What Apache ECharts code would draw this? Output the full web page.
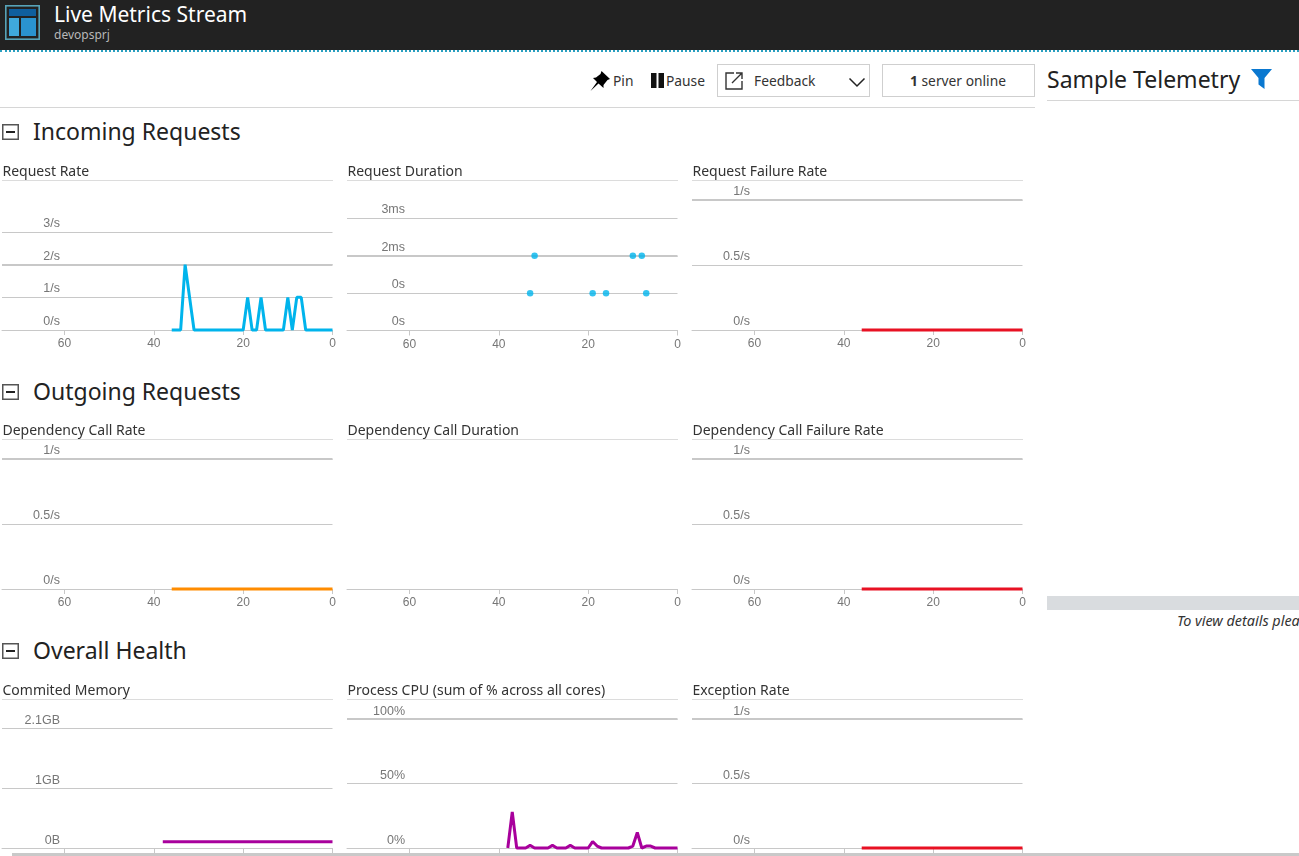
<!DOCTYPE html>
<html>
<head>
<meta charset="utf-8">
<script src="https://cdn.jsdelivr.net/npm/echarts@6/dist/echarts.min.js"></script>
<style>
html,body{margin:0;padding:0;width:1299px;height:856px;overflow:hidden;background:#fff;font-family:"Noto Sans",sans-serif;color:#222}
.a{position:absolute;white-space:nowrap}
#chart{position:absolute;left:0;top:0;width:1299px;height:856px;z-index:2}
.box{position:absolute;box-sizing:border-box;border:1px solid #cfcfcf;height:33px;top:64px}
.rule{position:absolute;height:1px;background:#d6d6d6}
.h{font-size:23px;line-height:30px;color:#222}
.tb{font-size:13.8px;line-height:18px;color:#333}
</style>
</head>
<body>
<div class="a" style="left:0;top:0;width:1299px;height:50px;background:#222"></div>
<div class="a" style="left:0;top:50px;width:1299px;height:0;border-top:2px dotted #2aa0c0"></div>
<svg class="a" style="left:5px;top:5px" width="35" height="36" viewBox="0 0 35 36">
<rect x="0.8" y="0.8" width="33.4" height="33.4" fill="#222" stroke="#57a3b8" stroke-width="1.6"/>
<rect x="4" y="4" width="27" height="7" fill="#0f5f9e"/>
<rect x="4" y="13" width="10" height="18" fill="#3fa9dc"/>
<rect x="16" y="13" width="15" height="18" fill="#2a93cf"/>
</svg>
<div class="a" style="left:54px;top:-1px;font-size:21px;line-height:30px;color:#fff">Live Metrics Stream</div>
<div class="a" style="left:54px;top:27px;font-size:12px;line-height:16px;color:#b8b8b8">devopsprj</div>

<svg class="a" style="left:589px;top:70px" width="22" height="22" viewBox="0 0 22 22">
<path d="M12.5 1 L21 9 L18.5 10 L14.5 15 L14.5 18 L9.5 13.5 L1.5 21 L8 12 L4 8 L7 7.5 L11.5 4 Z" fill="#000"/>
</svg>
<div class="a tb" style="left:613px;top:72px">Pin</div>
<svg class="a" style="left:651px;top:73px" width="14" height="15"><rect x="0" y="0" width="5.5" height="15" fill="#111"/><rect x="7.5" y="0" width="5.5" height="15" fill="#111"/></svg>
<div class="a tb" style="left:666px;top:72px">Pause</div>
<div class="box" style="left:717px;width:153px"></div>
<svg class="a" style="left:724px;top:71px" width="20" height="20" viewBox="0 0 20 20" fill="none" stroke="#333" stroke-width="1.4">
<path d="M10 2 H2 V18 H18 V10"/><path d="M8 12 L18 2 M12 2 H18 V8"/>
</svg>
<div class="a tb" style="left:754px;top:72px">Feedback</div>
<svg class="a" style="left:848px;top:76px" width="18" height="12" fill="none" stroke="#222" stroke-width="1.5"><path d="M1.5 2.5 L9 10 L16.5 2.5"/></svg>
<div class="box" style="left:882px;width:153px"></div>
<div class="a tb" style="left:910px;top:72px"><b>1</b> server online</div>
<div class="rule" style="left:0;top:107px;width:1035px"></div>

<div class="a h" style="left:1047px;top:64px">Sample Telemetry</div>
<svg class="a" style="left:1251px;top:69px" width="22" height="20"><path d="M0 0 H21 L13.5 9 V20 L7.5 15.5 V9 Z" fill="#0a78d0"/></svg>
<div class="rule" style="left:1047px;top:100px;width:252px"></div>
<div class="a" style="left:1047px;top:596px;width:252px;height:14px;background:#d9dcdf"></div>
<div class="a" style="left:1177px;top:612px;font-size:14.4px;line-height:18px;font-style:italic;color:#333">To view details please select a sample</div>

<div class="a h" style="left:33px;top:116px">Incoming Requests</div>
<div class="a h" style="left:33px;top:376px">Outgoing Requests</div>
<div class="a h" style="left:33px;top:635px">Overall Health</div>
<svg class="a" style="left:2px;top:124px" width="17" height="16"><rect x=".75" y=".75" width="15.5" height="14.5" fill="none" stroke="#555" stroke-width="1.5"/><rect x="4" y="7" width="9" height="2" fill="#222"/></svg>
<svg class="a" style="left:2px;top:384px" width="17" height="16"><rect x=".75" y=".75" width="15.5" height="14.5" fill="none" stroke="#555" stroke-width="1.5"/><rect x="4" y="7" width="9" height="2" fill="#222"/></svg>
<svg class="a" style="left:2px;top:643px" width="17" height="16"><rect x=".75" y=".75" width="15.5" height="14.5" fill="none" stroke="#555" stroke-width="1.5"/><rect x="4" y="7" width="9" height="2" fill="#222"/></svg>

<div id="chart"></div>
<div class="a" style="left:12px;top:853px;width:1287px;height:3px;background:#c9c9c9;z-index:3"></div>

<script>
// x-axis: seconds ago
var xTicks = [0, 20, 40, 60];

// tick labels, bottom to top
var rateLabels = ['0/s', '1/s', '2/s', '3/s'];
var durationLabels = ['0s', '0s', '2ms', '3ms'];
var unitRateLabels = ['0/s', '0.5/s', '1/s'];
var memoryLabels = ['0B', '1GB', '2.1GB'];
var cpuLabels = ['0%', '50%', '100%'];

// Request Rate
var requestRateAges = [36, 34, 33, 31, 20, 19, 18, 17, 16, 15, 11, 10, 9, 8, 7, 6, 0];
var requestRateValues = [0, 0, 2, 0, 0, 1, 0, 0, 1, 0, 0, 1, 0, 1, 1, 0, 0];

// Request Duration (ms)
var durationAges = [33, 32, 19, 16, 10, 8, 7];
var durationValues = [1, 2, 1, 1, 2, 2, 1];

// Flat series
var flatAges = [36, 0];
var requestFailureValues = [0, 0];
var dependencyRateValues = [0, 0];
var dependencyFailureValues = [0, 0];
var exceptionValues = [0, 0];

// Committed memory (GB)
var memoryAges = [38, 0];
var memoryValues = [0.11, 0.11];

// Process CPU (%)
var cpuAges = [38, 37, 36, 34, 33, 32, 29, 28, 27, 25, 24, 23, 20, 19, 18, 17, 11, 10, 9, 8, 7, 6, 5, 0];
var cpuValues = [0, 28, 0, 0, 2, 0, 0, 2, 0, 0, 2, 0, 0, 5, 1.5, 0, 0, 1.5, 12, 0, 1.5, 1.5, 0, 0];

var RED = '#e81123', BLUE = '#00b4ec', ORANGE = '#ff8c00', PURPLE = '#a8009c';

var panels = [
 {t:'Request Rate',c:0,r:0,top:232,y0:330,max:3,iv:1,labels:rateLabels,heavy:2,x:requestRateAges,y:requestRateValues,color:BLUE},
 {t:'Request Duration',c:1,r:0,top:218.5,y0:330.5,max:3,iv:1,labels:durationLabels,heavy:2,x:durationAges,y:durationValues,color:BLUE,scatter:true},
 {t:'Request Failure Rate',c:2,r:0,top:200,y0:330,max:1,iv:.5,labels:unitRateLabels,heavy:1,x:flatAges,y:requestFailureValues,color:RED},
 {t:'Dependency Call Rate',c:0,r:1,top:459,y0:589,max:1,iv:.5,labels:unitRateLabels,heavy:1,x:flatAges,y:dependencyRateValues,color:ORANGE},
 {t:'Dependency Call Duration',c:1,r:1,top:459,y0:589,max:1,iv:.5,labels:null,heavy:null,x:[],y:[],color:BLUE},
 {t:'Dependency Call Failure Rate',c:2,r:1,top:459,y0:589,max:1,iv:.5,labels:unitRateLabels,heavy:1,x:flatAges,y:dependencyFailureValues,color:RED},
 {t:'Commited Memory',c:0,r:2,top:728,y0:848,max:2.1,iv:1.05,labels:memoryLabels,heavy:null,x:memoryAges,y:memoryValues,color:PURPLE},
 {t:'Process CPU (sum of % across all cores)',c:1,r:2,top:719,y0:848,max:100,iv:50,labels:cpuLabels,heavy:100,x:cpuAges,y:cpuValues,color:PURPLE},
 {t:'Exception Rate',c:2,r:2,top:719,y0:848,max:1,iv:.5,labels:unitRateLabels,heavy:1,x:flatAges,y:exceptionValues,color:RED}
];

var titleY = [164, 423, 683], ruleY = [180, 439, 699], labelPad = [2, 2, 1];
var option = {animation:false,title:[],grid:[],xAxis:[],yAxis:[],series:[],graphic:[]};
var AX = '#c8c8c8', TXT = '#767676', SANS = '"Liberation Sans",Arial,sans-serif';

panels.forEach(function(p,i){
  var left = 2 + 345*p.c;
  option.title.push({text:p.t,left:left+0.5,top:titleY[p.r],padding:0,
    textStyle:{fontFamily:'"Noto Sans",sans-serif',fontSize:14,fontWeight:'normal',color:'#333',lineHeight:16}});
  option.graphic.push({type:'rect',silent:true,shape:{x:left,y:ruleY[p.r],width:331,height:1},style:{fill:'#dcdcdc'}});
  option.grid.push({left:left,top:p.top,width:330.5,height:p.y0-p.top,containLabel:false});
  option.xAxis.push({type:'value',gridIndex:i,inverse:true,min:0,max:74,position:'bottom',
    splitLine:{show:false},
    axisLine:{show:true,onZero:false,lineStyle:{color:AX,width:1}},
    axisTick:{show:true,length:5,customValues:xTicks,lineStyle:{color:AX}},
    axisLabel:{show:p.r<2,customValues:xTicks,margin:8,color:TXT,fontSize:12,fontFamily:SANS}});
  option.yAxis.push({type:'value',gridIndex:i,min:0,max:p.max,interval:p.iv,position:'left',
    show:!!p.labels,
    axisLine:{show:false},axisTick:{show:false},
    splitLine:{show:!!p.labels,lineStyle:{color:AX,width:1}},
    axisLabel:{inside:true,margin:58,align:'right',verticalAlign:'bottom',padding:[0,0,labelPad[p.r],0],color:TXT,fontSize:12.5,fontFamily:SANS,
      showMinLabel:true,showMaxLabel:true,
      formatter:(function(labels,iv){return function(v){return labels?labels[Math.round(v/iv)]:'';};})(p.labels,p.iv)}});
  var data = p.x.map(function(a,k){return [a,p.y[k]];});
  var s = p.scatter
    ? {type:'scatter',symbolSize:6.5,itemStyle:{color:p.color}}
    : {type:'line',showSymbol:false,symbol:'none',clip:false,lineStyle:{color:p.color,width:3,join:'bevel'}};
  s.xAxisIndex=i;s.yAxisIndex=i;s.data=data;s.z=5;s.silent=true;
  if(p.heavy!==null){
    s.markLine={silent:true,symbol:'none',animation:false,label:{show:false},z:1,
      lineStyle:{color:AX,width:2,type:'solid'},data:[{yAxis:p.heavy}]};
  }
  option.series.push(s);
});

echarts.init(document.getElementById('chart')).setOption(option);
</script>
</body>
</html>
